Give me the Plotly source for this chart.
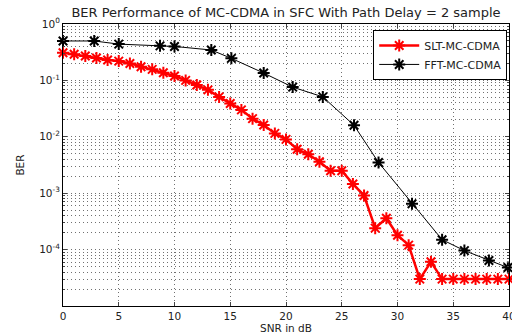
import plotly.graph_objects as go

snr_slt = list(range(41))
ber_slt = [0.31, 0.29, 0.27, 0.25, 0.23, 0.22, 0.20, 0.175, 0.157, 0.137,
           0.12, 0.10, 0.083, 0.068, 0.051, 0.039, 0.030, 0.021, 0.0162, 0.0115,
           0.0090, 0.0060, 0.0049, 0.0036, 0.0025, 0.0025, 0.00146, 0.00091, 0.00024, 0.00036,
           0.00018, 0.00012, 3.0e-5, 6.1e-5, 3.0e-5, 3.0e-5, 3.0e-5, 3.0e-5, 3.0e-5, 3.0e-5,
           3.0e-5]

snr_fft = [0, 2.8, 5.0, 8.7, 10.0, 13.3, 15.1, 18.0, 20.6, 23.3, 26.1, 28.3, 31.3, 34.0, 36.0, 38.2, 39.9]
ber_fft = [0.5, 0.5, 0.44, 0.41, 0.40, 0.346, 0.246, 0.135, 0.076, 0.051, 0.016, 0.0035,
           6.5e-4, 1.5e-4, 9.6e-5, 6.4e-5, 4.8e-5]

y_tickvals = [1, 0.1, 0.01, 0.001, 0.0001, 0.00001]
y_ticktext = ["10<sup>0</sup>", "10<sup>-1</sup>", "10<sup>-2</sup>", "10<sup>-3</sup>", "10<sup>-4</sup>", ""]
x_tickvals = [0, 5, 10, 15, 20, 25, 30, 35, 40]
x_ticktext = ["0", "5", "10", "15", "20", "25", "30", "35", "40"]

FONT = "DejaVu Sans, Liberation Sans, sans-serif"

fig = go.Figure()
fig.add_trace(go.Scatter(
    x=snr_slt, y=ber_slt, name="SLT-MC-CDMA", mode="lines+markers",
    line=dict(color="#ff0000", width=2.5),
    marker=dict(symbol="asterisk-open", size=10, color="#ff0000",
                line=dict(color="#ff0000", width=2)),
    cliponaxis=False,
))
fig.add_trace(go.Scatter(
    x=snr_fft, y=ber_fft, name="FFT-MC-CDMA", mode="lines+markers",
    line=dict(color="#000000", width=1),
    marker=dict(symbol="asterisk-open", size=10, color="#000000",
                line=dict(color="#000000", width=2)),
    cliponaxis=False,
))

grid = "#707070"
gdash = "1px,3px"
fig.update_layout(
    width=512, height=336,
    margin=dict(l=63, r=3, t=24, b=30),
    paper_bgcolor="white", plot_bgcolor="white",
    font=dict(family=FONT, size=10.5, color="#222222"),
    title=dict(text="BER Performance of MC-CDMA in SFC With Path Delay = 2 sample",
               x=286 / 512, xanchor="center", y=0.962, yanchor="middle",
               font=dict(size=13, family=FONT, color="#222222")),
    showlegend=True,
    legend=dict(x=0.996, y=0.979, xanchor="right", yanchor="top",
                bgcolor="white", bordercolor="black", borderwidth=1,
                font=dict(size=11, family=FONT), tracegroupgap=0,
                itemwidth=40),
    xaxis=dict(range=[0, 40], tickvals=x_tickvals, ticktext=x_ticktext,
               ticks="inside", ticklen=4, ticklabeloverflow="allow", automargin=False,
               showline=True, linecolor="black", linewidth=1, mirror="ticks",
               showgrid=True, gridcolor=grid, griddash=gdash, gridwidth=1,
               zeroline=False, tickfont=dict(size=10.5),
               title=dict(text="SNR in dB", font=dict(size=10.5), standoff=2)),
    yaxis=dict(type="log", range=[-5, 0], tickvals=y_tickvals, ticktext=y_ticktext,
               ticks="inside", ticklen=4, automargin=False,
               showline=True, linecolor="black", linewidth=1, mirror="ticks",
               showgrid=True, gridcolor=grid, griddash=gdash, gridwidth=1,
               zeroline=False, tickfont=dict(size=10.5),
               minor=dict(dtick="D1", ticks="inside", ticklen=2, showgrid=True,
                          gridcolor=grid, griddash=gdash, gridwidth=1),
               title=dict(text="BER", font=dict(size=10.5), standoff=12)),
)

fig.write_html("out.html")
